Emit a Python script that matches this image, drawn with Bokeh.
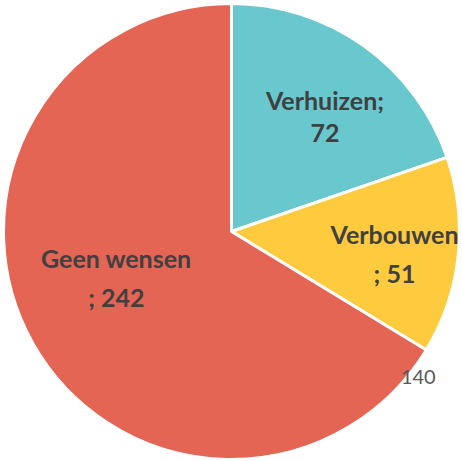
import math
from bokeh.plotting import figure
from bokeh.models import ColumnDataSource
from bokeh.core.properties import value
from bokeh.embed import file_html
from bokeh.resources import INLINE

categories = ["Verhuizen", "Verbouwen", "Geen wensen"]
values = [72, 51, 242]
label_line1 = ["Verhuizen;", "Verbouwen", "Geen wensen"]
label_line2 = ["72", "; 51", "; 242"]
colors = ["#68C8CE", "#FECB3E", "#E56555"]
# label anchor positions (pie radius = 1)
label_x = [0.41, 0.715, -0.505]
label_y = [0.50, -0.09, -0.195]
stray_label = "140"

total = sum(values)
starts, ends = [], []
cum = 0.0
for v in values:
    a0 = cum / total * 2 * math.pi
    cum += v
    a1 = cum / total * 2 * math.pi
    # clockwise from 12 o'clock
    starts.append(math.pi / 2 - a1)
    ends.append(math.pi / 2 - a0)

src = ColumnDataSource(dict(cat=categories, val=values, start=starts, end=ends, color=colors))

R = 228.0
W, H = 460, 459
cx, cy = 231.0, 231.0
p = figure(width=W, height=H, output_backend="svg", toolbar_location=None,
           x_range=(-cx / R, (W - cx) / R), y_range=((cy - H) / R, cy / R),
           min_border=0)
p.axis.visible = False
p.grid.visible = False
p.outline_line_color = None
p.background_fill_color = "white"

p.wedge(x=0, y=0, radius=1.0, start_angle="start", end_angle="end",
        fill_color="color", line_color="white", line_width=3, source=src)

lsrc = ColumnDataSource(dict(x=label_x, y=label_y, t1=label_line1, t2=label_line2))
p.text(x="x", y="y", text="t1", source=lsrc, text_font=value("Lato"), text_font_style="bold",
       text_font_size="25px", text_color="#404040", text_align="center", text_baseline="bottom",
       y_offset=-3)
p.text(x="x", y="y", text="t2", source=lsrc, text_font=value("Lato"), text_font_style="bold",
       text_font_size="25px", text_color="#404040", text_align="center", text_baseline="top",
       y_offset=6)

# stray value label just below the lower boundary of the second slice
ang = starts[1]
p.text(x=[math.cos(ang) - 0.035], y=[math.sin(ang) - 0.12], text=[stray_label],
       text_font=value("Lato"), text_font_size="20px", text_color="#595959",
       text_align="center", text_baseline="middle")

open("out.html", "w").write(file_html(p, INLINE))
